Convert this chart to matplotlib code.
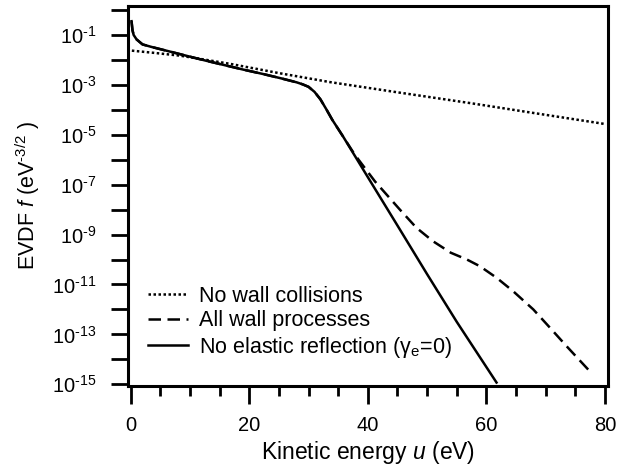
import numpy as np
import matplotlib.pyplot as plt
from matplotlib.ticker import FixedLocator, FuncFormatter, MultipleLocator

# values (log10 of f in eV^-3/2)
u_nowall = [0.2, 4.0, 8.3, 12.5, 16.8, 25.0, 33.6, 45.0, 57.2, 68.0, 80.0]
logf_nowall = [-1.63, -1.72, -1.83, -1.99, -2.16, -2.53, -2.89, -3.30, -3.73, -4.13, -4.57]

u_all = [0.15, 0.3, 0.5, 1.0, 2.0, 3.5, 5.0, 7.5, 10.3, 13.0, 16.0, 19.0, 22.4,
         25.2, 28.0, 29.0, 30.0, 31.0, 32.0, 33.0, 34.0, 35.9, 37.8, 41.2, 45.4,
         48.2, 51.0, 54.0, 56.7, 58.9, 61.7, 64.5, 67.9, 70.7, 73.5, 77.9]
logf_all = [-0.45, -0.8, -1.0, -1.18, -1.38, -1.48, -1.57, -1.72, -1.89, -2.05,
            -2.22, -2.39, -2.57, -2.73, -2.9, -2.98, -3.08, -3.28, -3.58, -3.98,
            -4.4, -5.1, -5.8, -6.87, -8.0, -8.73, -9.27, -9.73, -10.0, -10.27,
            -10.73, -11.27, -12.0, -12.73, -13.47, -14.6]

u_noel = [0.15, 0.3, 0.5, 1.0, 2.0, 3.5, 5.0, 7.5, 10.3, 13.0, 16.0, 19.0, 22.4,
          25.2, 28.0, 29.0, 30.0, 31.0, 32.0, 33.0, 34.0, 35.9, 40.0, 45.0, 50.0,
          55.0, 61.7]
logf_noel = [-0.45, -0.8, -1.0, -1.18, -1.38, -1.48, -1.57, -1.72, -1.89, -2.05,
             -2.22, -2.39, -2.57, -2.73, -2.9, -2.98, -3.08, -3.28, -3.58, -3.98,
             -4.4, -5.1, -6.7, -8.64, -10.59, -12.5, -14.93]

labels = ['No wall collisions', 'All wall processes',
          r'No elastic reflection ($\gamma_{\rm e}$=0)']

plt.rcParams['font.family'] = 'Liberation Sans'
plt.rcParams['mathtext.fontset'] = 'custom'
plt.rcParams['mathtext.rm'] = 'Liberation Sans'
plt.rcParams['mathtext.it'] = 'Liberation Sans:italic'
plt.rcParams['mathtext.default'] = 'regular'
plt.rcParams['font.size'] = 15

fig = plt.figure(figsize=(6.18, 4.71), dpi=100)
ax = fig.add_axes([0.2071, 0.1815, 0.7767, 0.8058])

lw = 1.8
ax.plot(u_nowall, 10.0 ** np.array(logf_nowall), color='black', lw=lw,
        linestyle=(0, (1, 1)), label=labels[0])
ax.plot(u_all, 10.0 ** np.array(logf_all), color='black', lw=lw,
        linestyle=(0, (5, 2.6)), label=labels[1])
ax.plot(u_noel, 10.0 ** np.array(logf_noel), color='black', lw=lw,
        label=labels[2])

ax.set_yscale('log')
ax.set_xlim(-0.45, 80.5)
ax.set_ylim(10 ** -15.05, 10 ** 0.16)

ax.xaxis.set_major_locator(MultipleLocator(20))
ax.xaxis.set_minor_locator(MultipleLocator(5))
ax.yaxis.set_major_locator(FixedLocator(10.0 ** np.arange(-15, 1)))
ax.yaxis.set_minor_locator(FixedLocator([]))


def ylab(v, pos):
    e = int(round(np.log10(v)))
    if e % 2 == 0:
        return ''
    return r'10$^{\text{-%d}}$' % abs(e)


ax.yaxis.set_major_formatter(FuncFormatter(ylab))

for s in ax.spines.values():
    s.set_linewidth(2.2)
ax.tick_params(axis='x', which='major', direction='out', length=13, width=2,
               pad=9, labelsize=14.5)
ax.tick_params(axis='x', which='minor', direction='out', length=7.5, width=2)
ax.tick_params(axis='y', which='major', direction='out', length=12, width=2,
               pad=11, labelsize=14.5)

ax.set_xlabel(r'Kinetic energy $\it{u}$ (eV)', fontsize=16.5, labelpad=3)
ax.set_ylabel(r'EVDF $\it{f}$ (eV$^{\text{-3/2}}$ )', fontsize=15.5, labelpad=7)

ax.legend(loc='lower left', bbox_to_anchor=(0.02, 0.040), frameon=False,
          fontsize=15.5, borderpad=0, handlelength=1.85, handletextpad=0.5,
          labelspacing=0.16)

fig.savefig('out.png', dpi=100)
